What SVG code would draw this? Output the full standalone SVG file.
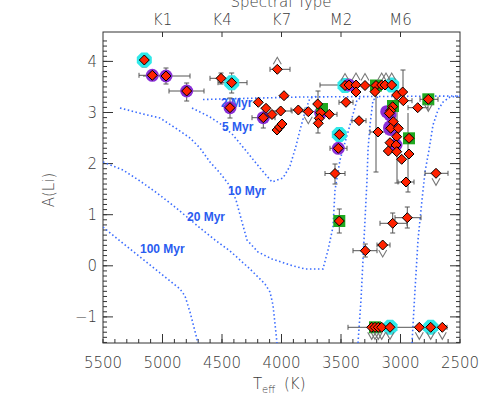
<svg xmlns="http://www.w3.org/2000/svg" width="491" height="409" viewBox="0 0 491 409">
<style>
text{font-family:"DejaVu Sans","Liberation Sans",sans-serif;font-weight:200;fill:#3a3a3a;font-size:15px}
.iso{fill:none;stroke:#3a6cff;stroke-width:1.6;stroke-dasharray:1.5 2.5}
.il{font-family:"Liberation Sans",Arial,sans-serif;font-weight:bold;font-size:12px;fill:#2a5cf0}
.eb{fill:none;stroke:#555;stroke-width:1}
.ax{fill:none;stroke:#333;stroke-width:1}
</style>
<defs>
<path id="d" d="M0,-5L5,0L0,5L-5,0Z" fill="#ff2200" stroke="#000" stroke-width="1"/>
<path id="c" d="M-3,-7.5L3,-7.5L7.5,-3L7.5,3L3,7.5L-3,7.5L-7.5,3L-7.5,-3Z" fill="#30e8e8"/>
<circle id="p" r="6.5" fill="#8a2fd6"/>
<rect id="g" x="-6" y="-6" width="12" height="12" fill="#20a820"/>
<path id="v" d="M-4,5L0,12L4,5" fill="none" stroke="#777" stroke-width="1.1"/>
<path id="u" d="M-4,-5L0,-12L4,-5" fill="none" stroke="#777" stroke-width="1.1"/>
<clipPath id="clip"><rect x="103" y="32" width="357" height="311"/></clipPath>
</defs>
<rect width="491" height="409" fill="#fff"/>

<g id="axes">
<rect class="ax" x="103" y="32" width="357" height="311"/>
<path class="ax" d="M103,342.45h4m-4,-5.11h4m-4,-5.11h4m-4,-5.11h4m-4,-5.11h4m-4,-5.11h4m-4,-5.11h4m-4,-5.11h4m-4,-5.11h4m-4,-5.11h4m-4,-5.11h4m-4,-5.11h4m-4,-5.11h4m-4,-5.11h4m-4,-5.11h4m-4,-5.11h4m-4,-5.11h4m-4,-5.11h4m-4,-5.11h4m-4,-5.11h4m-4,-5.11h4m-4,-5.11h4m-4,-5.11h4m-4,-5.11h4m-4,-5.11h4m-4,-5.11h4m-4,-5.11h4m-4,-5.11h4m-4,-5.11h4m-4,-5.11h4m-4,-5.11h4m-4,-5.11h4m-4,-5.11h4m-4,-5.11h4m-4,-5.11h4m-4,-5.11h4m-4,-5.11h4m-4,-5.11h4m-4,-5.11h4m-4,-5.11h4m-4,-5.11h4m-4,-5.11h4m-4,-5.11h4m-4,-5.11h4m-4,-5.11h4m-4,-5.11h4m-4,-5.11h4m-4,-5.11h4m-4,-5.11h4m-4,-5.11h4m-4,-5.11h4m-4,-5.11h4m-4,-5.11h4m-4,-5.11h4m-4,-5.11h4m-4,-5.11h4m-4,-5.11h4m-4,-5.11h4m-4,-5.11h4m-4,-5.11h4"/>
<path class="ax" d="M460,342.45h-4m4,-5.11h-4m4,-5.11h-4m4,-5.11h-4m4,-5.11h-4m4,-5.11h-4m4,-5.11h-4m4,-5.11h-4m4,-5.11h-4m4,-5.11h-4m4,-5.11h-4m4,-5.11h-4m4,-5.11h-4m4,-5.11h-4m4,-5.11h-4m4,-5.11h-4m4,-5.11h-4m4,-5.11h-4m4,-5.11h-4m4,-5.11h-4m4,-5.11h-4m4,-5.11h-4m4,-5.11h-4m4,-5.11h-4m4,-5.11h-4m4,-5.11h-4m4,-5.11h-4m4,-5.11h-4m4,-5.11h-4m4,-5.11h-4m4,-5.11h-4m4,-5.11h-4m4,-5.11h-4m4,-5.11h-4m4,-5.11h-4m4,-5.11h-4m4,-5.11h-4m4,-5.11h-4m4,-5.11h-4m4,-5.11h-4m4,-5.11h-4m4,-5.11h-4m4,-5.11h-4m4,-5.11h-4m4,-5.11h-4m4,-5.11h-4m4,-5.11h-4m4,-5.11h-4m4,-5.11h-4m4,-5.11h-4m4,-5.11h-4m4,-5.11h-4m4,-5.11h-4m4,-5.11h-4m4,-5.11h-4m4,-5.11h-4m4,-5.11h-4m4,-5.11h-4m4,-5.11h-4m4,-5.11h-4"/>
<path class="ax" d="M103,316.9h10M103,265.8h10M103,214.7h10M103,163.6h10M103,112.5h10M103,61.4h10M460,316.9h-10M460,265.8h-10M460,214.7h-10M460,163.6h-10M460,112.5h-10M460,61.4h-10"/>
<path class="ax" d="M103,343v-4m11.9,4v-4m11.9,4v-4m11.9,4v-4m11.9,4v-4m11.9,4v-4m11.9,4v-4m11.9,4v-4m11.9,4v-4m11.9,4v-4m11.9,4v-4m11.9,4v-4m11.9,4v-4m11.9,4v-4m11.9,4v-4m11.9,4v-4m11.9,4v-4m11.9,4v-4m11.9,4v-4m11.9,4v-4m11.9,4v-4m11.9,4v-4m11.9,4v-4m11.9,4v-4m11.9,4v-4m11.9,4v-4m11.9,4v-4m11.9,4v-4m11.9,4v-4m11.9,4v-4m11.9,4v-4"/>
<path class="ax" d="M162.5,343v-9M222,343v-9M281.5,343v-9M341,343v-9M400.5,343v-9M162.5,32v5M222,32v5M281.5,32v5M341,32v5M400.5,32v5"/>
</g>

<g id="labels">
<text x="281" y="7" text-anchor="middle">Spectral Type</text>
<text x="162.5" y="24.5" text-anchor="middle">K1</text>
<text x="222" y="24.5" text-anchor="middle">K4</text>
<text x="281.5" y="24.5" text-anchor="middle">K7</text>
<text x="341" y="24.5" text-anchor="middle">M2</text>
<text x="400.5" y="24.5" text-anchor="middle">M6</text>
<text x="103" y="368" text-anchor="middle">5500</text>
<text x="162.5" y="368" text-anchor="middle">5000</text>
<text x="222" y="368" text-anchor="middle">4500</text>
<text x="281.5" y="368" text-anchor="middle">4000</text>
<text x="341" y="368" text-anchor="middle">3500</text>
<text x="400.5" y="368" text-anchor="middle">3000</text>
<text x="460" y="368" text-anchor="middle">2500</text>
<text x="253" y="389">T</text>
<text x="262" y="393" style="font-size:10px">eff</text>
<text x="284" y="389">(K)</text>
<text x="97" y="67" text-anchor="end">4</text>
<text x="97" y="118" text-anchor="end">3</text>
<text x="97" y="169" text-anchor="end">2</text>
<text x="97" y="220.2" text-anchor="end">1</text>
<text x="97" y="271.3" text-anchor="end">0</text>
<text x="97" y="322.4" text-anchor="end">−1</text>
<text transform="translate(54,190) rotate(-90)" text-anchor="middle">A(Li)</text>
</g>

<g id="isochrones" clip-path="url(#clip)">
<path class="iso" d="M203,99.5L240,98.5L300,97L460,96"/>
<path class="iso" d="M192,108L210,117L222,125L233,135L247,152L260,168L272,182L283,178L290,166L296,146L300,130L305,112L310,98L318,96"/>
<path class="iso" d="M120,108L143,114L160,118L177,129L190,138L200,148L210,162L220,173L230,186L236,200L242,222L247,240L258,252L272,259L290,265L305,269L323,269L328,250L333,227L335,190L340,160L350,125L357,100L362,97"/>
<path class="iso" d="M103,162L123,170L140,181L157,193L175,207L187,217L200,228L215,240L230,251L250,269L265,284L270,292L273,305L277,343L277,370L358,370L358,343L361,300L364,240L367,180L368,150L370,125L373,100L378,97"/>
<path class="iso" d="M103,227L120,241L140,257L160,273L180,289L185,296L190,312L198,343L198,370L412,370L412,343L415,290L418,240L422,200L425,172L429,150L433,125L438,110L443,102L450,97L460,96"/>
</g>
<g id="isochrone-labels">
<text class="il" x="221" y="107">2 Myr</text>
<text class="il" x="222" y="131">5 Myr</text>
<text class="il" x="228" y="194.5">10 Myr</text>
<text class="il" x="187" y="221">20 Myr</text>
<text class="il" x="140" y="253">100 Myr</text>
</g>

<g id="errorbars" class="eb">
<path d="M144.3,54V67M141.8,54h5M141.8,67h5
M139,75.3H166M139,72.8v5
M143,76H190M190,73.5v5M166,68V84M163.5,68h5M163.5,84h5
M169,91H204M169,88.5v5M204,88.5v5M186.7,83V101M184.2,83h5M184.2,101h5
M210,78.3H232M210,75.8v5M232,75.8v5M221,73V84M218.5,73h5M218.5,84h5
M218,82.7H247M218,80.2v5M247,80.2v5M231.7,73V93M229.2,73h5M229.2,93h5
M230,98V118M227.5,98h5M227.5,118h5
M270,69.3H290M270,66.8v5M290,66.8v5
M252,117.7H275M252,115.2v5M275,115.2v5M263.3,108V128M260.8,108h5M260.8,128h5
M273,111H292M292,108.5v5
M291,110H305M291,107.5v5M305,107.5v5
M300,111.7H316M316,109.2v5
M318,91V133M315.5,91h5M315.5,133h5
M322,114.3H337M337,111.8v5
M330,148.3H347M330,145.8v5M347,145.8v5
M325,173.5H345M325,171v5M345,171v5M335,164V184M332.5,164h5M332.5,184h5
M352,120.7H366M352,118.2v5M366,118.2v5
M370,132H386M370,129.5v5M386,129.5v5
M320,85H373M320,82.5v5
M339,102.3H353M339,99.8v5M353,99.8v5
M408,107.7H428M408,105.2v5M428,105.2v5
M420,99.3H438M420,96.8v5M438,96.8v5
M395,100.7H412M395,98.2v5M412,98.2v5
M403,70V103M400.5,70h5
M397,100V183M394.5,183h5
M408,113V192M405.5,192h5
M376,90V172M373.5,172h5
M398,182H414M398,179.5v5M414,179.5v5
M425,173.3H448M425,170.8v5M448,170.8v5
M339.3,209V233M336.8,209h5M336.8,233h5
M380,223.3H407M380,220.8v5M407,220.8v5M392.7,213V233M390.2,213h5M390.2,233h5
M395,217.7H421M395,215.2v5M421,215.2v5M407.3,207V228M404.8,207h5M404.8,228h5
M353,250.7H377M353,248.2v5M377,248.2v5M365.3,244V257M362.8,244h5M362.8,257h5
M377,245H390M377,242.5v5M390,242.5v5
M348,327.3H447M348,324.8v5M447,324.8v5"/>
</g>

<g id="highlights">
<use href="#c" x="144.3" y="60"/><use href="#c" x="231.7" y="82.7"/><use href="#c" x="339.3" y="134.5"/><use href="#c" x="345" y="85.5"/><use href="#c" x="391.7" y="85"/><use href="#c" x="390" y="327.3"/><use href="#c" x="430.7" y="327.3"/>
<use href="#p" x="152.3" y="75.3"/><use href="#p" x="166" y="76"/><use href="#p" x="186.7" y="91"/><use href="#p" x="230" y="107.7"/><use href="#p" x="263.3" y="117.7"/><use href="#p" x="320.7" y="113"/><use href="#p" x="338.3" y="148.3"/><use href="#p" x="349" y="85"/><use href="#p" x="386.7" y="111.7"/><use href="#p" x="390" y="115"/><use href="#p" x="396" y="145"/>
<circle cx="391" cy="128" r="8" fill="#8a2fd6"/>
<use href="#g" x="322" y="109"/><use href="#g" x="376" y="85.5"/><use href="#g" x="428.3" y="99.3"/><use href="#g" x="393" y="106"/><use href="#g" x="409" y="138.3"/><use href="#g" x="339.3" y="221"/><use href="#g" x="375" y="327.3"/>
</g>

<g id="limits">
<use href="#v" x="308.3" y="111.7"/><use href="#v" x="428.3" y="99.3"/><use href="#v" x="436" y="173.3"/><use href="#v" x="382.7" y="245"/>
<use href="#v" x="371.7" y="327.3"/><use href="#v" x="375" y="327.3"/><use href="#v" x="378.3" y="327.3"/><use href="#v" x="381.7" y="327.3"/><use href="#v" x="390" y="327.3"/><use href="#v" x="419.3" y="327.3"/><use href="#v" x="430.7" y="327.3"/><use href="#v" x="442.3" y="327.3"/>
<use href="#u" x="277.3" y="69.3"/><use href="#u" x="345" y="85.5"/><use href="#u" x="356" y="85"/><use href="#u" x="365" y="85.5"/><use href="#u" x="381.7" y="85"/><use href="#u" x="386" y="85"/><use href="#u" x="391.7" y="85"/>
</g>

<g id="points">
<use href="#d" x="144.3" y="60"/><use href="#d" x="152.3" y="75.3"/><use href="#d" x="166" y="76"/><use href="#d" x="186.7" y="91"/><use href="#d" x="221" y="78.3"/><use href="#d" x="231.7" y="82.7"/><use href="#d" x="230" y="107.7"/><use href="#d" x="277.3" y="69.3"/>
<use href="#d" x="284" y="95.7"/><use href="#d" x="258.3" y="102.3"/><use href="#d" x="266" y="108.3"/><use href="#d" x="263.3" y="117.7"/><use href="#d" x="272" y="114.5"/><use href="#d" x="280.7" y="111"/><use href="#d" x="277" y="130"/><use href="#d" x="279.5" y="127"/><use href="#d" x="282" y="124"/>
<use href="#d" x="298.3" y="110"/><use href="#d" x="308.3" y="111.7"/><use href="#d" x="317.7" y="104"/><use href="#d" x="320.7" y="112.7"/><use href="#d" x="319.3" y="118.3"/><use href="#d" x="318.3" y="123.3"/><use href="#d" x="329.3" y="114.3"/>
<use href="#d" x="339.3" y="134.5"/><use href="#d" x="338.3" y="148.3"/><use href="#d" x="335" y="173.5"/><use href="#d" x="346" y="102.3"/><use href="#d" x="359" y="120.7"/><use href="#d" x="378" y="132"/>
<use href="#d" x="345" y="85.5"/><use href="#d" x="349" y="85"/><use href="#d" x="356" y="85"/><use href="#d" x="365" y="85.5"/><use href="#d" x="376" y="85.5"/><use href="#d" x="381.7" y="85"/><use href="#d" x="385" y="85"/><use href="#d" x="391.7" y="85"/>
<use href="#d" x="375" y="91.7"/><use href="#d" x="356" y="92"/><use href="#d" x="396.7" y="95"/><use href="#d" x="402.7" y="92"/><use href="#d" x="403.3" y="100.7"/><use href="#d" x="417.7" y="107.7"/><use href="#d" x="428.3" y="99.3"/>
<use href="#d" x="392.7" y="106.7"/><use href="#d" x="390.7" y="110.7"/><use href="#d" x="389.3" y="113.3"/>
<use href="#d" x="393.3" y="121.7"/><use href="#d" x="390.7" y="128.3"/><use href="#d" x="398.3" y="128.3"/><use href="#d" x="396.7" y="136.7"/><use href="#d" x="409" y="138.3"/><use href="#d" x="390" y="142.7"/><use href="#d" x="396" y="145"/><use href="#d" x="388.3" y="151"/><use href="#d" x="396.7" y="151.7"/><use href="#d" x="401.7" y="159.3"/><use href="#d" x="409" y="154"/><use href="#d" x="406" y="182"/><use href="#d" x="436" y="173.3"/>
<use href="#d" x="339.3" y="221"/><use href="#d" x="392.7" y="223.3"/><use href="#d" x="407.3" y="217.7"/><use href="#d" x="365.3" y="250.7"/><use href="#d" x="382.7" y="245"/>
<use href="#d" x="371.7" y="327.3"/><use href="#d" x="375" y="327.3"/><use href="#d" x="378.3" y="327.3"/><use href="#d" x="381.7" y="327.3"/><use href="#d" x="390" y="327.3"/><use href="#d" x="419.3" y="327.3"/><use href="#d" x="430.7" y="327.3"/><use href="#d" x="442.3" y="327.3"/>
</g>
</svg>
